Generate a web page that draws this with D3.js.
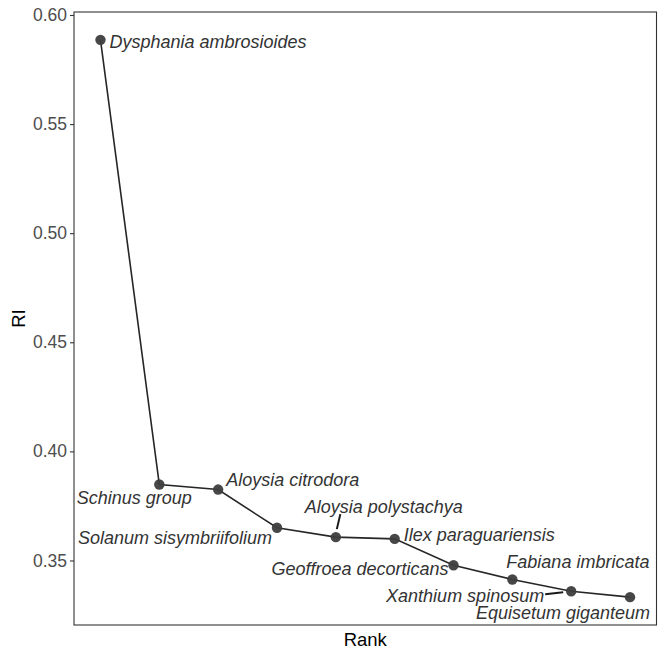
<!DOCTYPE html>
<html>
<head>
<meta charset="utf-8">
<script src="https://cdn.jsdelivr.net/npm/d3@7"></script>
<style>
  html, body { margin: 0; padding: 0; background: #fff; }
  svg { display: block; font-family: "Liberation Sans", Arial, sans-serif; }
</style>
</head>
<body>
<svg id="chart" width="666" height="650"></svg>
<script>
// ---- data ----
const species = [
  "Dysphania ambrosioides", "Schinus group", "Aloysia citrodora",
  "Solanum sisymbriifolium", "Aloysia polystachya", "Ilex paraguariensis",
  "Geoffroea decorticans", "Fabiana imbricata", "Xanthium spinosum",
  "Equisetum giganteum"
];
const ranks = [1, 2, 3, 4, 5, 6, 7, 8, 9, 10];
const riValues = [0.5886, 0.3848, 0.3825, 0.3650, 0.3607, 0.3599, 0.3478, 0.3413, 0.3359, 0.3332];
const yTicks = [0.35, 0.40, 0.45, 0.50, 0.55, 0.60];

// label placement (pixel nudges relative to the point, repel-style)
const labelDx = [9, -25, 8, -5, 48, 9, -5, -6, -27, 20];
const labelDy = [2, 13, -10, 10, -30, -4, 4, -17, 5, 16];
const labelAnchor = ["start", "middle", "start", "end", "middle", "start", "end", "start", "end", "end"];
const labelSegment = [false, false, false, false, true, false, false, false, true, false];

// ---- layout ----
const svg = d3.select("#chart");
const panel = { left: 74, right: 656.5, top: 12, bottom: 625 };

const xMin = d3.min(ranks), xMax = d3.max(ranks);
const xPad = (xMax - xMin) * 0.05;
const x = d3.scaleLinear().domain([xMin - xPad, xMax + xPad]).range([panel.left, panel.right]);

const yMin = d3.min(riValues), yMax = d3.max(riValues);
const yPad = (yMax - yMin) * 0.05;
const y = d3.scaleLinear().domain([yMin - yPad, yMax + yPad]).range([panel.bottom, panel.top]);

const data = species.map((s, i) => ({ name: s, rank: ranks[i], ri: riValues[i], i }));

// panel border
svg.append("rect")
  .attr("x", panel.left).attr("y", panel.top)
  .attr("width", panel.right - panel.left).attr("height", panel.bottom - panel.top)
  .attr("fill", "none").attr("stroke", "#333333").attr("stroke-width", 1.1);

// y axis
const yAxis = d3.axisLeft(y).tickValues(yTicks).tickFormat(d3.format(".2f")).tickSize(4).tickPadding(3);
const gy = svg.append("g").attr("transform", `translate(${panel.left},0)`).call(yAxis);
gy.select(".domain").remove();
gy.selectAll(".tick line").attr("stroke", "#333333").attr("stroke-width", 1.1);
gy.selectAll(".tick text").attr("fill", "#4d4d4d").style("font-size", "17.5px");

// axis titles
svg.append("text")
  .attr("transform", `translate(25,${(panel.top + panel.bottom) / 2}) rotate(-90)`)
  .attr("text-anchor", "middle")
  .attr("fill", "#000").style("font-size", "18.5px")
  .text("RI");
svg.append("text")
  .attr("x", (panel.left + panel.right) / 2).attr("y", 646)
  .attr("text-anchor", "middle")
  .attr("fill", "#000").style("font-size", "18.5px")
  .text("Rank");

// line
const line = d3.line().x(d => x(d.rank)).y(d => y(d.ri));
svg.append("path").datum(data)
  .attr("d", line).attr("fill", "none")
  .attr("stroke", "#262626").attr("stroke-width", 1.6);

// segments for repelled labels
svg.selectAll(".seg").data(data.filter(d => labelSegment[d.i])).enter()
  .append("line")
  .attr("x1", d => d.i === 8 ? x(d.rank) + labelDx[d.i] + 1 : x(d.rank) + 1)
  .attr("y1", d => d.i === 8 ? y(d.ri) + labelDy[d.i] - 2 : y(d.ri) - 8)
  .attr("x2", d => d.i === 8 ? x(d.rank) - 8 : x(d.rank) + 4.5)
  .attr("y2", d => d.i === 8 ? y(d.ri) + 1 : y(d.ri) + labelDy[d.i] + 7)
  .attr("stroke", "#1a1a1a").attr("stroke-width", 2);

// points
svg.selectAll(".pt").data(data).enter()
  .append("circle")
  .attr("cx", d => x(d.rank)).attr("cy", d => y(d.ri))
  .attr("r", 5.2).attr("fill", "#3d3d3d").attr("fill-opacity", 0.95);

// labels
svg.selectAll(".lab").data(data).enter()
  .append("text")
  .attr("x", d => x(d.rank) + labelDx[d.i])
  .attr("y", d => y(d.ri) + labelDy[d.i])
  .attr("dominant-baseline", "central")
  .attr("text-anchor", d => labelAnchor[d.i])
  .attr("fill", "#333333")
  .style("font-size", "18px").style("font-style", "italic")
  .text(d => d.name);
</script>
</body>
</html>
